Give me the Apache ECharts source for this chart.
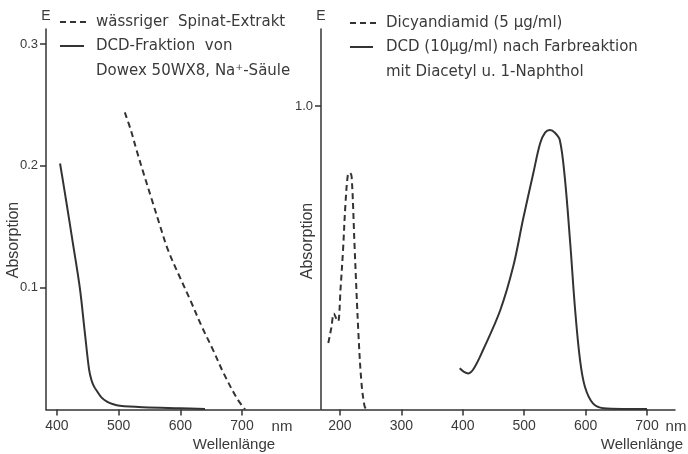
<!DOCTYPE html>
<html>
<head>
<meta charset="utf-8">
<script src="https://cdn.jsdelivr.net/npm/echarts@6/dist/echarts.min.js"></script>
<style>html,body{margin:0;padding:0;background:#fff}#c{width:688px;height:454px}</style>
</head>
<body>
<div id="c"></div>
<script>
// Left panel: wässriger Spinat-Extrakt (dashed)
const spinachWl  = [510, 520, 529, 541, 554, 567, 580, 598, 616, 634, 653, 670, 692, 705];
const spinachAbs = [0.244, 0.229, 0.213, 0.193, 0.172, 0.151, 0.131, 0.110, 0.090, 0.069, 0.049, 0.030, 0.009, 0.0];
// Left panel: DCD-Fraktion (solid)
const dcdFrWl  = [405, 415, 425, 437, 445, 452, 456, 460, 465, 472, 481, 490, 502, 540, 600, 640];
const dcdFrAbs = [0.202, 0.171, 0.139, 0.100, 0.064, 0.033, 0.024, 0.019, 0.015, 0.010, 0.0065, 0.0045, 0.003, 0.0018, 0.001, 0.0005];
// Right panel: Dicyandiamid 5 µg/ml (dashed)
const dicyWl  = [181, 186, 190, 194, 197, 201, 205, 209, 213, 216, 219, 224, 230, 235, 240, 243];
const dicyAbs = [0.219, 0.27, 0.316, 0.30, 0.29, 0.40, 0.526, 0.68, 0.775, 0.78, 0.767, 0.526, 0.252, 0.088, 0.011, 0.0];
// Right panel: DCD 10 µg/ml nach Farbreaktion (solid)
const dcdColWl  = [395, 402, 409, 418, 433, 461, 482, 498, 515, 526, 534, 542, 550, 558, 566, 575, 583, 591, 599, 612, 629, 660, 700];
const dcdColAbs = [0.136, 0.124, 0.119, 0.135, 0.196, 0.327, 0.470, 0.625, 0.780, 0.877, 0.912, 0.921, 0.912, 0.888, 0.767, 0.547, 0.327, 0.162, 0.074, 0.020, 0.004, 0.002, 0.002];
// Tick values
const leftXTicks  = [400, 500, 600, 700];
const rightXTicks = [200, 300, 400, 500, 600, 700];
const leftYTicks  = [0.1, 0.2, 0.3];
const rightYTicks = [1.0];

const zip = (a, b) => a.map((v, i) => [v, b[i]]);
const INK = '#333';
const TXT = '#3a3a3a';
const FONT = 'Liberation Sans';
const LFONT = 'DejaVu Sans';

const chart = echarts.init(document.getElementById('c'), null, {renderer: 'canvas'});

function xAxis(grid, min, max, ticks) {
  return {
    type: 'value', gridIndex: grid, min: min, max: max,
    axisLine: {show: true, lineStyle: {color: INK, width: 1.5}},
    axisTick: {show: true, inside: false, length: 6, customValues: ticks, lineStyle: {color: INK, width: 1.5}},
    axisLabel: {show: true, margin: 10, customValues: ticks, color: TXT, fontFamily: FONT, fontSize: 14},
    splitLine: {show: false}
  };
}
function yAxis(grid, max, ticks) {
  return {
    type: 'value', gridIndex: grid, min: 0, max: max,
    name: 'E', nameLocation: 'end', nameGap: 6,
    nameTextStyle: {color: TXT, fontFamily: FONT, fontSize: 14, align: 'center'},
    axisLine: {show: true, lineStyle: {color: INK, width: 1.5}},
    axisTick: {show: true, inside: false, length: 6, customValues: ticks, lineStyle: {color: INK, width: 1.5}},
    axisLabel: {show: true, margin: 8, customValues: ticks, color: TXT, fontFamily: FONT, fontSize: 13,
      formatter: v => v.toFixed(1)},
    splitLine: {show: false}
  };
}
function series(x, y, xi, dashed) {
  return {
    type: 'line', xAxisIndex: xi, yAxisIndex: xi, data: zip(x, y),
    showSymbol: false, smooth: 0.35, silent: true,
    lineStyle: {color: INK, width: 2, type: dashed ? [6, 4] : 'solid'}
  };
}

function txt(x, y, s, opts, rot) {
  return {type: 'text', x: x, y: y, rotation: rot || 0, silent: true,
    style: Object.assign({text: s, fill: TXT, font: '15px "' + LFONT + '"', textVerticalAlign: 'middle', textAlign: 'left'}, opts || {})};
}
function seg(x1, x2, y, dashed) {
  return {type: 'line', silent: true, shape: {x1: x1, y1: y, x2: x2, y2: y},
    style: {stroke: INK, lineWidth: 2, lineDash: dashed ? [6, 4] : null}};
}
const AX = {textAlign: 'center', font: '15px "' + FONT + '"'};
const AXR = {textAlign: 'center', font: '16px "' + FONT + '"'};

chart.setOption({
  animation: false,
  backgroundColor: '#fff',
  grid: [
    {left: 46, top: 29, width: 274, height: 380.5},
    {left: 321, top: 29, width: 354, height: 380.5}
  ],
  xAxis: [
    xAxis(0, 382.2, 826.5, leftXTicks),
    xAxis(1, 169.1, 745.6, rightXTicks)
  ],
  yAxis: [
    yAxis(0, 0.3124, leftYTicks),
    yAxis(1, 1.2537, rightYTicks)
  ],
  series: [
    series(spinachWl, spinachAbs, 0, true),
    series(dcdFrWl, dcdFrAbs, 0, false),
    series(dicyWl, dicyAbs, 1, true),
    series(dcdColWl, dcdColAbs, 1, false)
  ],
  graphic: [
    seg(60, 88, 22, true),
    txt(96, 22, 'wässriger  Spinat-Extrakt'),
    seg(60, 84, 46, false),
    txt(96, 46, 'DCD-Fraktion  von'),
    txt(96, 71, 'Dowex 50WX8, Na⁺-Säule'),
    seg(350, 378, 23, true),
    txt(386, 23, 'Dicyandiamid (5 µg/ml)'),
    seg(350, 373, 47, false),
    txt(386, 47, 'DCD (10µg/ml) nach Farbreaktion'),
    txt(386, 72, 'mit Diacetyl u. 1-Naphthol'),
    txt(14, 240, 'Absorption', AXR, Math.PI / 2),
    txt(308, 241, 'Absorption', AXR, Math.PI / 2),
    txt(282, 427, 'nm', AX),
    txt(234, 445, 'Wellenlänge', AX),
    txt(676, 427, 'nm', AX),
    txt(642, 445, 'Wellenlänge', AX)
  ]
});
</script>
</body>
</html>
